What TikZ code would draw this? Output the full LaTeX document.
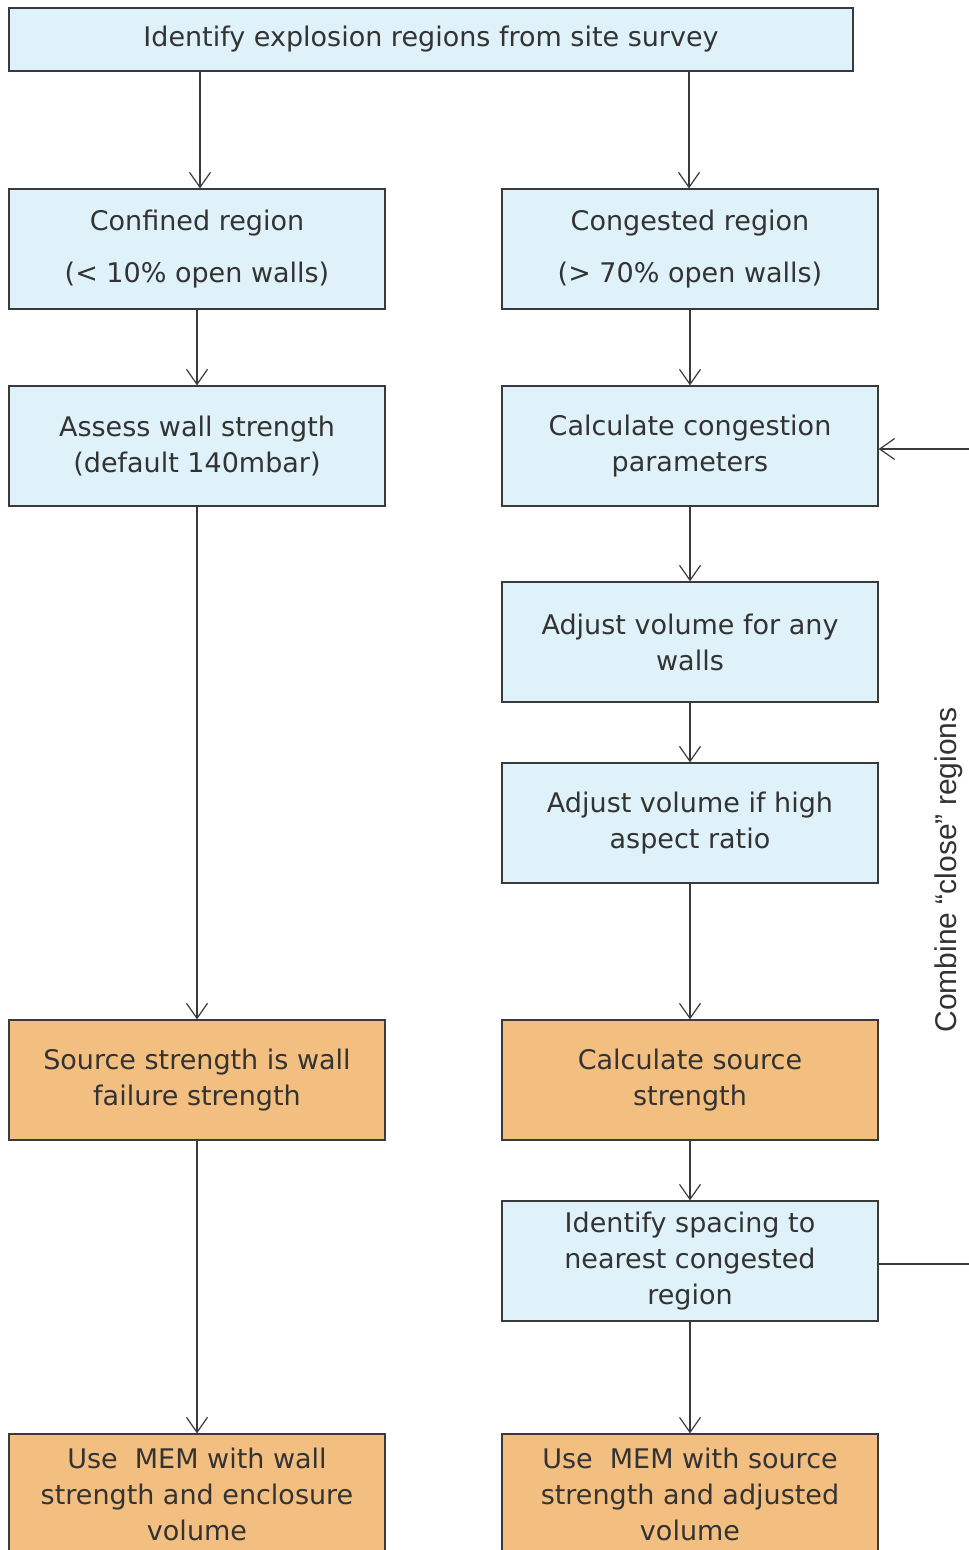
\documentclass[tikz,border=0pt]{standalone}
\usepackage{fontspec}
\setmainfont{DejaVu Sans}
\newfontfamily\arialf{Liberation Sans}
\usetikzlibrary{arrows.meta}
\definecolor{boxblue}{HTML}{DFF1F9}
\definecolor{boxorange}{HTML}{F3BF80}
\definecolor{linec}{HTML}{3A3A3A}
\definecolor{textc}{HTML}{333333}
\begin{document}
\begin{tikzpicture}[x=1pt,y=-1pt,
  base/.style={draw=linec, line width=1.3pt, text=textc, align=center,
    minimum width=376pt, minimum height=120pt, inner sep=0pt,
    font=\fontsize{27}{36}\selectfont},
  bluebox/.style={base, fill=boxblue},
  orangebox/.style={base, fill=boxorange},
  arr/.style={draw=linec, line width=1.2pt, -{Straight Barb[length=15pt,width=21pt,line width=1.2pt]}},
  ln/.style={draw=linec, line width=1.2pt}
]
\useasboundingbox (0,0) rectangle (969,1550);
\clip (0,0) rectangle (969,1550);
\node[bluebox, minimum width=844pt, minimum height=63pt] (top) at (431,39.5) {Identify explosion regions from site survey};
\node[bluebox] (conf) at (197,249) {Confined region\\[16pt](< 10\% open walls)};
\node[bluebox] (cong) at (690,249) {Congested region\\[16pt](> 70\% open walls)};
\node[bluebox] (assess) at (197,446) {Assess wall strength\\(default 140mbar)};
\node[bluebox] (calc) at (690,446) {Calculate congestion\\parameters};
\node[bluebox] (adjw) at (690,642) {Adjust volume for any\\walls};
\node[bluebox] (adja) at (690,823) {Adjust volume if high\\aspect ratio};
\node[orangebox] (srcw) at (197,1080) {Source strength is wall\\failure strength};
\node[orangebox] (srcc) at (690,1080) {Calculate source\\strength};
\node[bluebox] (space) at (690,1261) {Identify spacing to\\nearest congested\\region};
\node[orangebox] (memw) at (197,1494) {Use\ \ MEM with wall\\strength and enclosure\\volume};
\node[orangebox] (memc) at (690,1494) {Use\ \ MEM with source\\strength and adjusted\\volume};
\node[rotate=90, text=textc, font=\arialf\fontsize{30}{34}\selectfont] (comb) at (949,870) {Combine “close” regions};
\draw[arr] (top.south -| 200,0) -- (conf.north -| 200,0);
\draw[arr] (top.south -| 689,0) -- (cong.north -| 689,0);
\draw[arr] (conf) -- (assess);
\draw[arr] (assess) -- (srcw);
\draw[arr] (srcw) -- (memw);
\draw[arr] (cong) -- (calc);
\draw[arr] (calc) -- (adjw);
\draw[arr] (adjw) -- (adja);
\draw[arr] (adja) -- (srcc);
\draw[arr] (srcc) -- (space);
\draw[arr] (space) -- (memc);
\coordinate (fb) at (985,1264);
\draw[arr] (space.east) ++(0,3) -- (fb) |- ([yshift=-3pt]calc.east);
\end{tikzpicture}
\end{document}
